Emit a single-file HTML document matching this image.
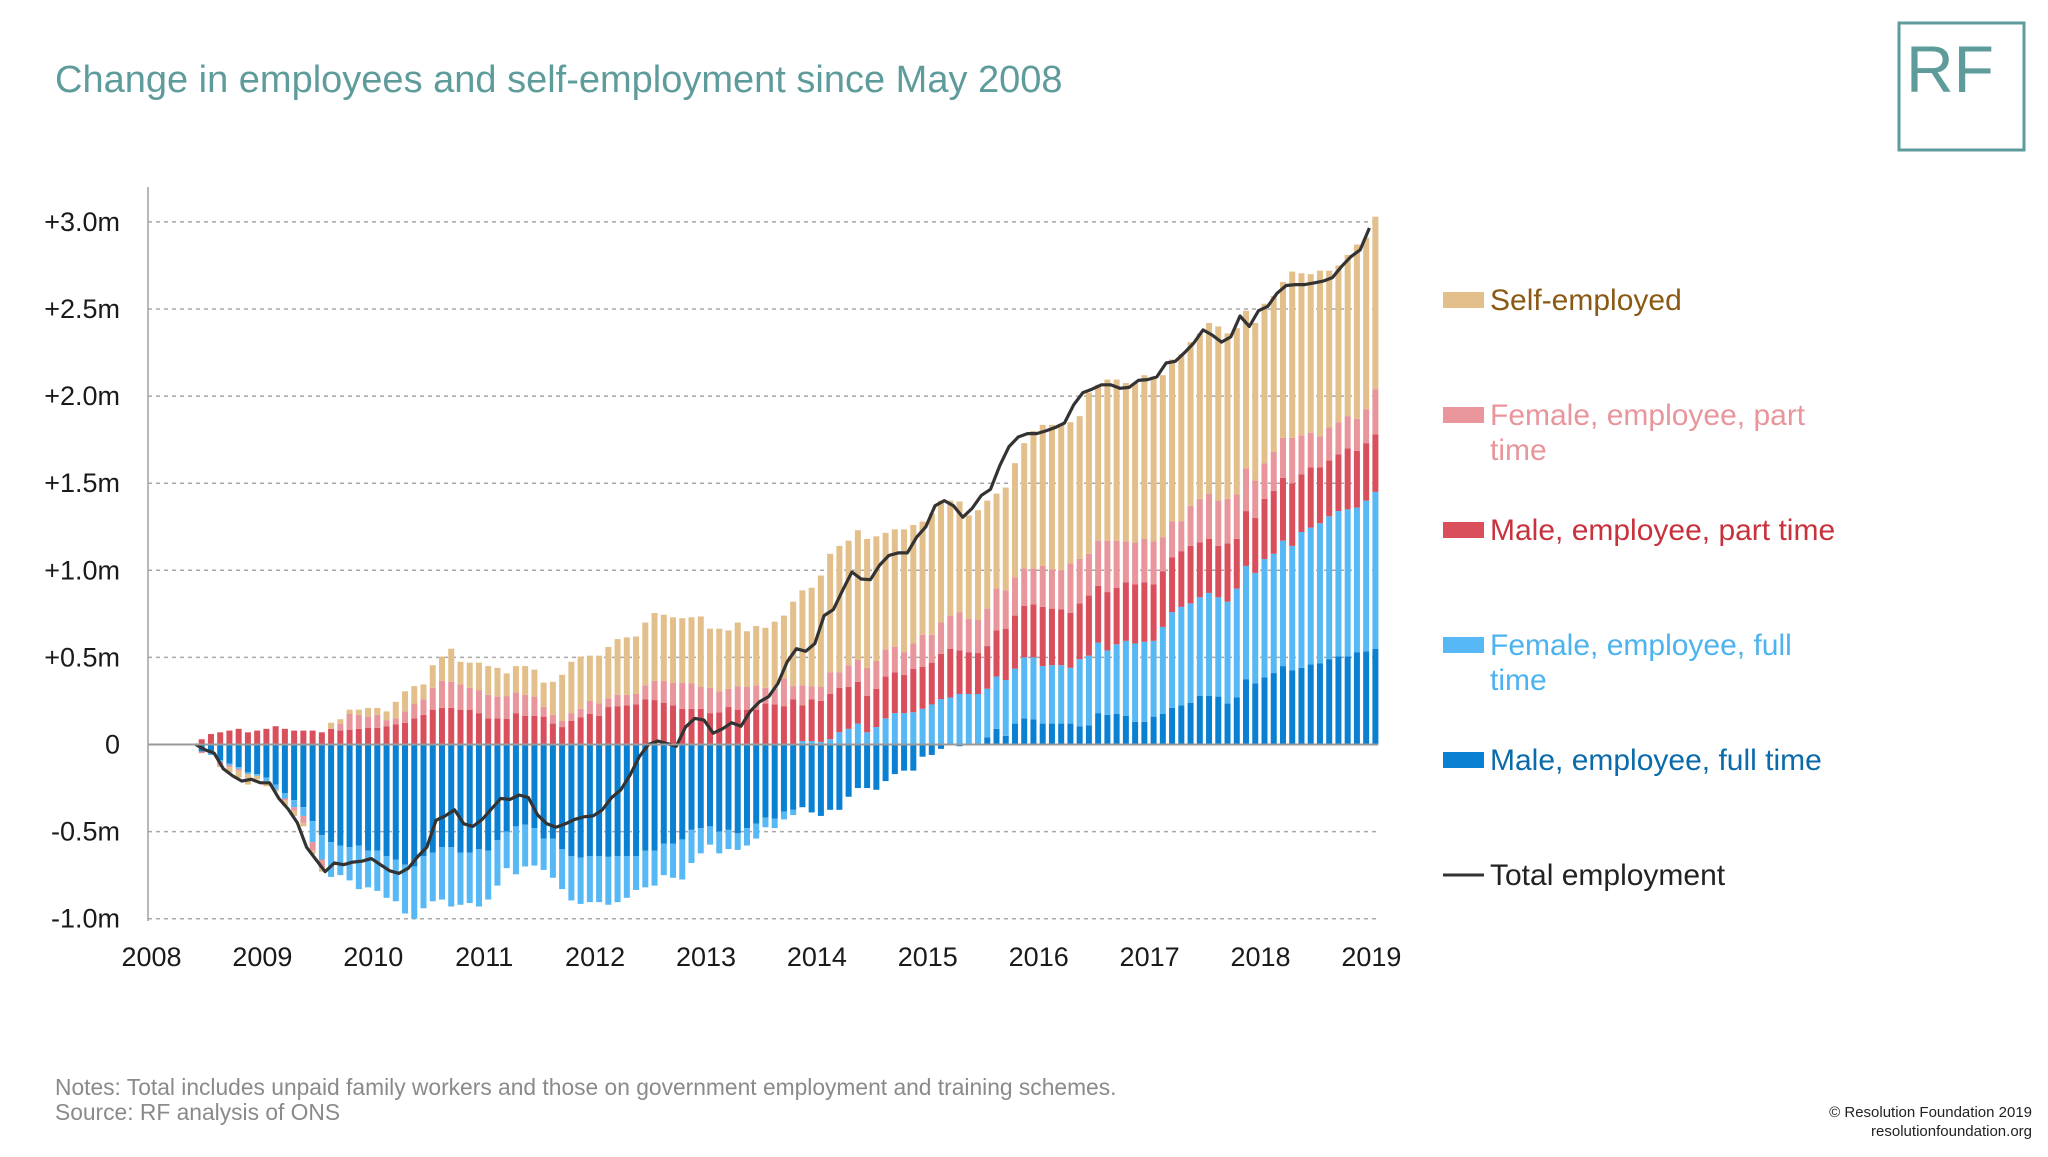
<!DOCTYPE html>
<html><head><meta charset="utf-8"><style>
html,body{margin:0;padding:0;background:#fff;}
body{width:2048px;height:1152px;position:relative;overflow:hidden;font-family:"Liberation Sans",sans-serif;}
</style></head><body>
<svg id="chart" width="2048" height="1152" viewBox="0 0 2048 1152" xmlns="http://www.w3.org/2000/svg" font-family="Liberation Sans, sans-serif">
<text x="55" y="92" font-size="38" fill="#5e9c9b">Change in employees and self-employment since May 2008</text>
<g>
<rect x="1899" y="23" width="125" height="127" fill="none" stroke="#5e9c9b" stroke-width="3"/>
<text x="1906" y="92" font-size="66" fill="#5e9c9b">RF</text>
</g>
<g id="grid"></g>
<g id="bars"></g>
<g id="axes"></g>
<g id="legend"></g>
<text x="55" y="1095" font-size="22.8" fill="#8a8a8a">Notes: Total includes unpaid family workers and those on government employment and training schemes.</text>
<text x="55" y="1120" font-size="22.8" fill="#8a8a8a">Source: RF analysis of ONS</text>
<text x="2032" y="1117" font-size="15" fill="#222" text-anchor="end">© Resolution Foundation 2019</text>
<text x="2032" y="1136" font-size="15" fill="#222" text-anchor="end">resolutionfoundation.org</text>
</svg>
<script>
const yTicks=[-1,-0.5,0,0.5,1,1.5,2,2.5,3];
const yTickLabels=["-1.0m","-0.5m","0","+0.5m","+1.0m","+1.5m","+2.0m","+2.5m","+3.0m"];
const xYears=[2008,2009,2010,2011,2012,2013,2014,2015,2016,2017,2018,2019];
const maleFT=[-0.04,-0.05,-0.09,-0.11,-0.13,-0.16,-0.17,-0.19,-0.23,-0.28,-0.32,-0.36,-0.44,-0.52,-0.56,-0.58,-0.59,-0.58,-0.61,-0.61,-0.64,-0.66,-0.69,-0.70,-0.64,-0.62,-0.59,-0.59,-0.62,-0.62,-0.60,-0.61,-0.55,
-0.50,-0.47,-0.46,-0.48,-0.54,-0.54,-0.60,-0.64,-0.65,-0.64,-0.64,-0.645,-0.64,-0.64,-0.64,-0.61,-0.61,-0.57,-0.57,-0.545,-0.49,-0.48,-0.47,-0.50,-0.49,-0.51,-0.48,-0.455,-0.42,-0.425,-0.385,-0.375,
-0.36,-0.39,-0.41,-0.375,-0.375,-0.30,-0.25,-0.25,-0.26,-0.21,-0.17,-0.15,-0.15,-0.07,-0.06,-0.025,-0.005,-0.01,0,0,0.04,0.09,0.05,0.12,0.15,0.145,0.12,0.12,0.12,0.12,0.105,
0.11,0.18,0.17,0.175,0.165,0.13,0.13,0.16,0.175,0.21,0.225,0.24,0.28,0.28,0.275,0.235,0.27,0.375,0.35,0.385,0.41,0.45,0.425,0.44,0.46,0.465,0.49,0.505,0.505,0.53,0.535,0.55];
const femaleFT=[0,-0.01,-0.01,-0.01,-0.01,-0.01,-0.01,-0.02,-0.03,-0.03,-0.04,-0.05,-0.12,-0.14,-0.20,
-0.17,-0.19,-0.25,-0.21,-0.23,-0.24,-0.24,-0.28,-0.30,-0.30,-0.28,-0.30,-0.34,-0.30,-0.29,-0.33,-0.28,-0.26,
-0.21,-0.275,-0.24,-0.215,-0.18,-0.225,-0.23,-0.255,-0.265,-0.265,-0.265,-0.275,-0.265,-0.24,-0.195,-0.21,-0.20,-0.18,-0.195,-0.23,-0.19,-0.145,-0.105,-0.125,-0.11,-0.095,-0.10,-0.085,-0.055,-0.055,-0.045,-0.03,
0.02,0.02,0.015,0.03,0.07,0.09,0.12,0.07,0.10,0.15,0.18,0.18,0.185,0.205,0.23,0.26,0.27,0.29,0.29,0.29,0.28,0.30,0.32,0.315,0.35,0.355,0.33,0.335,0.335,0.32,0.385,
0.40,0.405,0.37,0.40,0.43,0.45,0.46,0.435,0.50,0.55,0.565,0.57,0.565,0.59,0.57,0.585,0.625,0.65,0.635,0.68,0.685,0.72,0.715,0.78,0.785,0.805,0.82,0.835,0.845,0.83,0.865,0.90];
const malePT=[0.03,0.06,0.07,0.08,0.09,0.07,0.08,0.09,0.105,0.09,0.08,0.08,0.08,0.07,0.09,0.08,0.085,0.09,0.095,0.095,0.105,0.115,0.125,0.15,0.17,0.20,0.21,0.21,0.20,0.20,0.18,0.15,0.15,
0.148,0.18,0.165,0.165,0.16,0.12,0.10,0.135,0.155,0.175,0.165,0.215,0.22,0.225,0.23,0.26,0.255,0.24,0.225,0.205,0.205,0.205,0.18,0.185,0.215,0.20,0.20,0.20,0.235,0.23,0.22,0.26,
0.204,0.24,0.235,0.26,0.255,0.24,0.24,0.21,0.22,0.24,0.235,0.22,0.25,0.24,0.24,0.26,0.28,0.25,0.24,0.235,0.245,0.265,0.295,0.305,0.295,0.305,0.34,0.325,0.32,0.315,0.32,
0.345,0.325,0.335,0.325,0.335,0.34,0.34,0.325,0.32,0.315,0.32,0.33,0.315,0.31,0.295,0.335,0.285,0.315,0.315,0.345,0.36,0.36,0.36,0.33,0.345,0.32,0.32,0.325,0.35,0.325,0.33,0.33];
const femalePT=[-0.01,0,-0.02,-0.01,-0.01,0,0,0,0,-0.01,-0.02,-0.04,-0.05,-0.05,0,0.04,0.09,0.08,0.065,0.075,0.035,0.035,0.065,0.085,0.09,0.125,0.155,0.15,0.145,0.125,0.13,0.135,0.125,
0.13,0.12,0.12,0.11,0.055,0.05,0.035,0.045,0.05,0.075,0.07,0.05,0.065,0.06,0.06,0.08,0.11,0.125,0.13,0.15,0.145,0.125,0.145,0.12,0.105,0.135,0.13,0.14,0.09,0.09,0.16,0.075,
0.116,0.075,0.08,0.125,0.09,0.125,0.125,0.16,0.16,0.155,0.145,0.13,0.145,0.185,0.16,0.18,0.19,0.22,0.19,0.19,0.215,0.24,0.22,0.22,0.215,0.205,0.235,0.225,0.225,0.285,0.255,
0.24,0.26,0.295,0.27,0.235,0.24,0.25,0.245,0.195,0.205,0.17,0.23,0.25,0.26,0.26,0.255,0.255,0.245,0.215,0.205,0.225,0.23,0.26,0.225,0.20,0.18,0.19,0.185,0.185,0.185,0.195,0.26];
const selfEmp=[0,0,-0.01,-0.03,-0.04,-0.06,-0.02,-0.03,-0.01,-0.03,-0.03,-0.02,-0.02,-0.02,0.035,0.025,0.025,0.03,0.05,0.04,0.05,0.095,0.115,0.10,0.085,0.13,0.14,0.19,0.13,0.145,0.16,0.165,0.165,
0.13,0.15,0.165,0.155,0.14,0.19,0.265,0.295,0.30,0.26,0.275,0.295,0.32,0.33,0.33,0.36,0.39,0.38,0.375,0.37,0.38,0.405,0.34,0.36,0.335,0.365,0.32,0.34,0.345,0.385,0.36,0.485,
0.545,0.565,0.64,0.68,0.725,0.715,0.745,0.74,0.715,0.67,0.675,0.705,0.68,0.65,0.695,0.70,0.66,0.635,0.595,0.63,0.62,0.545,0.59,0.655,0.72,0.79,0.81,0.83,0.84,0.81,0.82,
0.925,0.895,0.925,0.925,0.91,0.915,0.94,0.945,0.93,0.93,0.96,0.94,0.95,0.98,1.00,0.95,0.955,0.905,0.905,0.915,0.895,0.895,0.955,0.93,0.91,0.95,0.90,0.90,0.925,1.00,0.985,0.99];
const totalEmp=[0,-0.03,-0.05,-0.14,-0.18,-0.21,-0.20,-0.22,-0.22,-0.31,-0.37,-0.45,-0.59,-0.66,-0.73,-0.68,-0.69,-0.675,-0.67,-0.655,-0.69,-0.725,-0.74,-0.71,-0.645,-0.59,-0.435,-0.41,-0.375,-0.455,-0.47,-0.43,-0.37,
-0.31,-0.315,-0.29,-0.305,-0.405,-0.455,-0.475,-0.455,-0.43,-0.415,-0.41,-0.375,-0.305,-0.26,-0.175,-0.07,0,0.02,0.005,-0.01,0.10,0.15,0.14,0.065,0.09,0.125,0.105,0.19,0.245,0.275,0.35,0.475,
0.55,0.535,0.58,0.74,0.775,0.885,0.99,0.95,0.946,1.03,1.085,1.10,1.10,1.19,1.25,1.37,1.40,1.37,1.305,1.355,1.43,1.465,1.60,1.71,1.765,1.785,1.785,1.80,1.82,1.845,1.95,
2.02,2.04,2.065,2.065,2.045,2.05,2.09,2.095,2.11,2.19,2.20,2.25,2.305,2.38,2.35,2.31,2.34,2.46,2.40,2.49,2.515,2.59,2.635,2.64,2.64,2.65,2.66,2.68,2.745,2.80,2.84,2.965];

const NS="http://www.w3.org/2000/svg";
const startYear=2008+5/12;
function yS(v){return 744.5-v*174.2;}
function xYear(y){return 151.5+(y-2008)*110.9;}
function xBar(i){return xYear(startYear+i/12)+4;}
function mk(tag,attrs,parent){const e=document.createElementNS(NS,tag);for(const k in attrs)e.setAttribute(k,attrs[k]);parent.appendChild(e);return e;}
const grid=document.getElementById('grid'),axes=document.getElementById('axes'),bars=document.getElementById('bars'),legend=document.getElementById('legend');
yTicks.forEach((t,i)=>{
  if(t!==0){const g=mk('line',{x1:148,x2:1378,y1:yS(t),y2:yS(t),stroke:'#a8a8a8','stroke-width':1.5,'stroke-dasharray':'4,4'},grid);
  
  }
  const lb=mk('text',{x:120,y:yS(t)+9,'font-size':27,'text-anchor':'end',fill:'#1a1a1a'},axes);
  
  
  lb.textContent=yTickLabels[i];
});
xYears.forEach(y=>{
  const lb=mk('text',{x:xYear(y),y:966,'font-size':27,'text-anchor':'middle',fill:'#1a1a1a'},axes);
  
  
  lb.textContent=y;
});
const yAx=mk('line',{x1:148,x2:148,y1:187,y2:921,stroke:'#a0a0a0','stroke-width':1.5},axes);


const cols={mft:'#0a80d2',fft:'#56b8f4',mpt:'#d9505c',fpt:'#e8959c',se:'#e3bf8b'};
const series=[['mft',maleFT],['fft',femaleFT],['mpt',malePT],['fpt',femalePT],['se',selfEmp]];
const bw=6;
for(let i=0;i<maleFT.length;i++){
  let pos=0,neg=0;const x=xBar(i)-bw/2;
  series.forEach(([k,arr])=>{
    const v=arr[i];if(!v)return;
    let y0,y1;
    if(v>0){y0=pos;y1=pos+v;pos=y1;}else{y0=neg;y1=neg+v;neg=y1;}
    const r=mk('rect',{x:x,y:Math.min(yS(y0),yS(y1)),width:bw,height:Math.abs(yS(y1)-yS(y0)),fill:cols[k]},bars);
    
    
  });
}
const zl=mk('line',{x1:148,x2:1378,y1:yS(0),y2:yS(0),stroke:'#9a9a9a','stroke-width':2},axes);


let d='';
totalEmp.forEach((v,i)=>{d+=(i?'L':'M')+(xBar(i)-6).toFixed(1)+','+yS(v).toFixed(1);});
const ln=mk('path',{d:d,fill:'none',stroke:'#333','stroke-width':3.2,'stroke-linejoin':'round'},bars);


const legendItems=[
 ['Self-employed',null,'#e3bf8b','#8a5a14',300],
 ['Female, employee, part','time','#e8959c','#e8959c',415],
 ['Male, employee, part time',null,'#d9505c','#c8323c',530],
 ['Female, employee, full','time','#56b8f4','#4db3f0',645],
 ['Male, employee, full time',null,'#0a80d2','#0a6aaa',760],
 ['Total employment',null,'line','#222',875]];
legendItems.forEach(([t1,t2,sw,tc,y])=>{
  const g=mk('g',{},legend);
  
  
  if(sw==='line')mk('line',{x1:1443,x2:1484,y1:y,y2:y,stroke:'#333','stroke-width':3},g);
  else mk('rect',{x:1443,y:y-8,width:41,height:16,fill:sw},g);
  const a=mk('text',{x:1490,y:y+10,'font-size':30,fill:tc},g);a.textContent=t1;
  if(t2){const b=mk('text',{x:1490,y:y+45,'font-size':30,fill:tc},g);b.textContent=t2;}
});
</script>
</body></html>
